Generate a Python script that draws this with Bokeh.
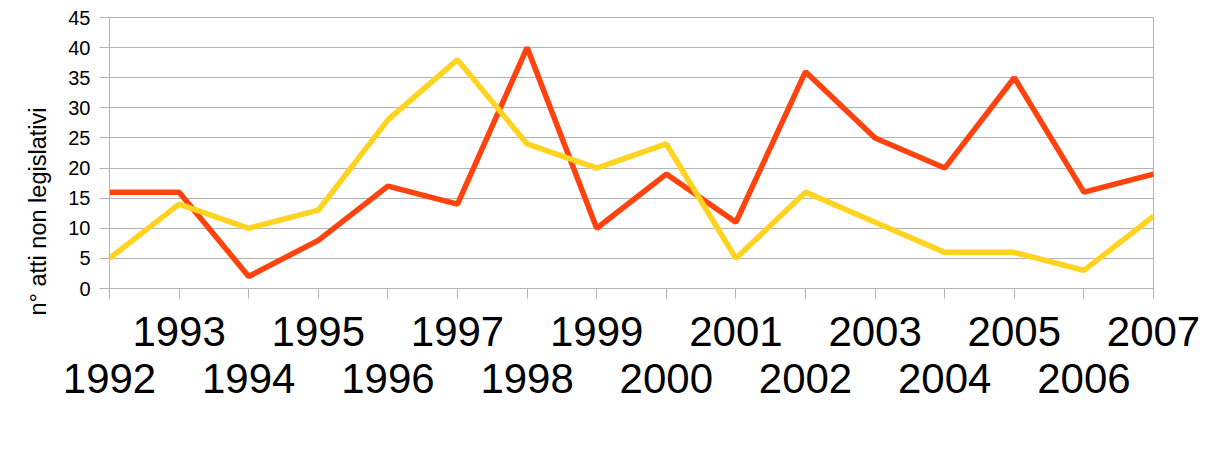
from bokeh.plotting import figure
from bokeh.models import Range1d, FixedTicker, LinearAxis, Legend, LegendItem, Title
from bokeh.embed import file_html
from bokeh.resources import INLINE

years = list(range(1992, 2008))
libia = [16, 16, 2, 8, 17, 14, 40, 10, 19, 11, 36, 25, 20, 35, 16, 19]
tunisia = [5, 14, 10, 13, 28, 38, 24, 20, 24, 5, 16, 11, 6, 6, 3, 12]
y_ticks = [0, 5, 10, 15, 20, 25, 30, 35, 40, 45]
y_title = "n° atti non legislativi"
FONT = "Liberation Sans"
GRAY = "#b3b3b3"

p = figure(width=1202, height=472, frame_width=1044, frame_height=271,
           output_backend="svg", toolbar_location=None,
           x_range=Range1d(1992, 2007), y_range=Range1d(0, 45),
           min_border_left=109, min_border_top=17, min_border_right=49, min_border_bottom=0,
           background_fill_color="white", border_fill_color="white")
p.outline_line_color = GRAY
p.xgrid.grid_line_color = None
p.ygrid.grid_line_color = GRAY
p.ygrid.ticker = FixedTicker(ticks=y_ticks)

# y axis
ya = p.yaxis[0]
ya.ticker = FixedTicker(ticks=y_ticks)
ya.axis_line_color = GRAY
ya.major_tick_line_color = GRAY
ya.major_tick_out = 10
ya.major_tick_in = 0
ya.minor_tick_line_color = None
ya.major_label_text_font = FONT
ya.major_label_text_font_size = "20px"
ya.major_label_text_color = "black"
ya.major_label_standoff = 9

t = Title(text=y_title, align="left", offset=-27, standoff=30, vertical_align="bottom",
          text_font=FONT, text_font_size="23.5px", text_font_style="normal",
          text_color="black")
p.add_layout(t, "left")

# x axis row 1 (odd years)
xa = p.xaxis[0]
xa.ticker = FixedTicker(ticks=years)
xa.axis_line_color = GRAY
xa.major_tick_line_color = GRAY
xa.major_tick_out = 10
xa.major_tick_in = 0
xa.minor_tick_line_color = None
xa.major_label_text_font = FONT
xa.major_label_text_font_size = "42px"
xa.major_label_text_color = "black"
xa.major_label_standoff = 18
xa.major_label_overrides = {y: (str(y) if y % 2 == 1 else "") for y in years}

# x axis row 2 (even years)
xa2 = LinearAxis(ticker=FixedTicker(ticks=years))
xa2.axis_line_color = None
xa2.major_tick_line_color = None
xa2.major_tick_out = 0
xa2.major_tick_in = 0
xa2.minor_tick_line_color = None
xa2.major_label_text_font = FONT
xa2.major_label_text_font_size = "42px"
xa2.major_label_text_color = "black"
xa2.major_label_standoff = 15
xa2.major_label_overrides = {y: (str(y) if y % 2 == 0 else "") for y in years}
p.add_layout(xa2, "below")

r1 = p.line(years, libia, line_color="#ff420e", line_width=5.5)
r2 = p.line(years, tunisia, line_color="#ffd320", line_width=5.5)

legend = Legend(items=[LegendItem(label="Libia", renderers=[r1]),
                       LegendItem(label="Tunisia", renderers=[r2])],
                orientation="horizontal", location="top_center",
                label_text_font=FONT, label_text_font_size="40px", label_text_color="black",
                glyph_width=45, glyph_height=20, label_standoff=10, spacing=26,
                padding=0, margin=24, border_line_color=None, background_fill_alpha=0)
p.add_layout(legend, "below")

open("out.html", "w").write(file_html(p, INLINE))
